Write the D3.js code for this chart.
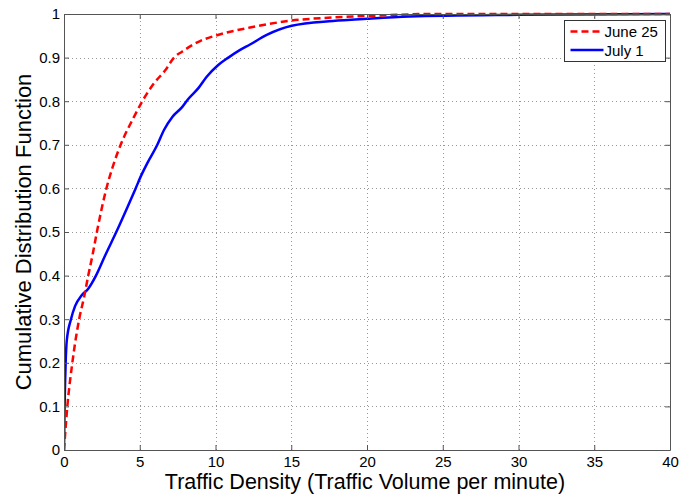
<!DOCTYPE html>
<html>
<head>
<meta charset="utf-8">
<script src="https://cdn.jsdelivr.net/npm/d3@7"></script>
<style>
  body { margin: 0; background: #fff; }
  svg text { font-family: "Liberation Sans", Arial, Helvetica, sans-serif; fill: #000; }
</style>
</head>
<body>
<div id="chart"></div>
<script>
//////////////////////////// data /////////////////////////////////////////

// June 25 curve: [traffic density, cdf]
const june25 = [
	[0, 0], [0.22, 0.1], [0.55, 0.2], [1.0, 0.3], [1.32, 0.35], [1.6, 0.4],
	[1.9, 0.45], [2.2, 0.505], [2.8, 0.6], [3.22, 0.65], [3.74, 0.7], [4.62, 0.764],
	[5.17, 0.8], [5.94, 0.841], [6.71, 0.872], [7.26, 0.9], [7.81, 0.914],
	[8.98, 0.938], [9.97, 0.95], [12.28, 0.969], [15.03, 0.985],
	[17.75, 0.992], [21.2, 0.997], [24, 1], [40, 1]
];

// July 1 curve
const july1 = [
	[0, 0], [0.04, 0.1], [0.11, 0.2], [0.18, 0.25], [0.46, 0.3], [0.73, 0.33],
	[1.17, 0.355], [1.6, 0.37], [2.11, 0.4], [2.7, 0.445], [3.52, 0.505],
	[4.1, 0.55], [4.73, 0.6], [5.06, 0.627], [5.5, 0.658], [6.16, 0.7],
	[6.6, 0.734], [7.15, 0.764], [7.81, 0.787], [8.2, 0.805], [8.87, 0.83],
	[9.42, 0.856], [10.18, 0.883], [10.85, 0.9], [11.6, 0.917], [12.28, 0.93],
	[13.38, 0.952], [15.03, 0.973], [17.75, 0.984], [19.98, 0.989],
	[22.8, 0.994], [30, 0.998], [40, 1]
];

const xTicks = [0, 5, 10, 15, 20, 25, 30, 35, 40];
const yTicks = [0, 0.1, 0.2, 0.3, 0.4, 0.5, 0.6, 0.7, 0.8, 0.9, 1];
const seriesNames = ["June 25", "July 1"];

//////////////////////////// Set up svg ///////////////////////////////////

const width = 699;
const height = 498;
const margin = { top: 14, right: 29, bottom: 48, left: 64 };

const svg = d3
	.select("#chart")
	.append("svg")
	.attr("width", width)
	.attr("height", height);

const xScale = d3.scaleLinear().domain([0, 40]).range([margin.left, width - margin.right]);
const yScale = d3.scaleLinear().domain([0, 1]).range([height - margin.bottom, margin.top]);

const x0 = xScale.range()[0], x1 = xScale.range()[1];
const y0 = yScale.range()[0], y1 = yScale.range()[1];

//////////////////////////// grid /////////////////////////////////////////

const grid = svg.append("g").attr("stroke", "#999").attr("stroke-width", 1)
	.attr("stroke-dasharray", "1,3");

grid.selectAll(".vgrid")
	.data(xTicks.slice(1, -1))
	.enter()
	.append("line")
	.attr("x1", (d) => Math.round(xScale(d)) + 0.5)
	.attr("x2", (d) => Math.round(xScale(d)) + 0.5)
	.attr("y1", y0)
	.attr("y2", y1);

grid.selectAll(".hgrid")
	.data(yTicks.slice(1, -1))
	.enter()
	.append("line")
	.attr("x1", x0)
	.attr("x2", x1)
	.attr("y1", (d) => Math.round(yScale(d)) + 0.5)
	.attr("y2", (d) => Math.round(yScale(d)) + 0.5);

//////////////////////////// lines ////////////////////////////////////////

const line = d3.line()
	.x((d) => xScale(d[0]))
	.y((d) => yScale(d[1]))
	.curve(d3.curveMonotoneX);

svg.append("clipPath").attr("id", "plotclip")
	.append("rect")
	.attr("x", x0).attr("y", y1 - 2)
	.attr("width", x1 - x0).attr("height", y0 - y1 + 2);

svg.append("path")
	.datum(july1)
	.attr("clip-path", "url(#plotclip)")
	.attr("fill", "none")
	.attr("stroke", "#0000ff")
	.attr("stroke-width", 2.5)
	.attr("d", line);

svg.append("path")
	.datum(june25)
	.attr("clip-path", "url(#plotclip)")
	.attr("fill", "none")
	.attr("stroke", "#ff0000")
	.attr("stroke-width", 2.5)
	.attr("stroke-dasharray", "7,4")
	.attr("d", line);

//////////////////////////// axes /////////////////////////////////////////

const tickSize = 5;
const axisColor = "#555";

const xAxis = d3.axisBottom(xScale).tickValues(xTicks).tickSizeInner(-tickSize).tickSizeOuter(0)
	.tickPadding(6).tickFormat(d3.format("d"));
const yAxis = d3.axisLeft(yScale).tickValues(yTicks).tickSizeInner(-tickSize).tickSizeOuter(0)
	.tickPadding(4).tickFormat((d) => (d === 0 || d === 1 ? d3.format("d")(d) : d3.format(".1f")(d)));
const xAxisTop = d3.axisTop(xScale).tickValues(xTicks).tickSizeInner(-tickSize).tickSizeOuter(0).tickFormat("");
const yAxisRight = d3.axisRight(yScale).tickValues(yTicks).tickSizeInner(-tickSize).tickSizeOuter(0).tickFormat("");

function styleAxis(g) {
	g.selectAll("path").attr("stroke", axisColor);
	g.selectAll("line").attr("stroke", axisColor);
	g.selectAll("text").attr("font-size", 15).attr("fill", "#000");
}

svg.append("g").attr("transform", "translate(0," + y0 + ")").call(xAxis).call(styleAxis);
svg.append("g").attr("transform", "translate(" + x0 + ",0)").call(yAxis).call(styleAxis);
svg.append("g").attr("transform", "translate(0," + y1 + ")").call(xAxisTop).call(styleAxis);
svg.append("g").attr("transform", "translate(" + x1 + ",0)").call(yAxisRight).call(styleAxis);

// axis labels
svg.append("text")
	.attr("x", 365)
	.attr("y", 489)
	.attr("text-anchor", "middle")
	.attr("font-size", 21.5)
	.text("Traffic Density (Traffic Volume per minute)");

svg.append("text")
	.attr("transform", "translate(31," + (y0 + y1) / 2 + ") rotate(-90)")
	.attr("text-anchor", "middle")
	.attr("font-size", 22)
	.text("Cumulative Distribution Function");

//////////////////////////// legend ///////////////////////////////////////

const legend = svg.append("g").attr("transform", "translate(564.5,20.5)");

legend.append("rect")
	.attr("width", 101)
	.attr("height", 41)
	.attr("fill", "#fff")
	.attr("stroke", "#333")
	.attr("stroke-width", 1);

const legendItems = legend.selectAll(".item")
	.data(seriesNames)
	.enter()
	.append("g")
	.attr("transform", (d, i) => "translate(0," + (11 + i * 18.5) + ")");

legendItems.append("line")
	.attr("x1", 6)
	.attr("x2", 39)
	.attr("stroke", (d, i) => (i === 0 ? "#ff0000" : "#0000ff"))
	.attr("stroke-width", 2.5)
	.attr("stroke-dasharray", (d, i) => (i === 0 ? "7,4" : null));

legendItems.append("text")
	.attr("x", 40)
	.attr("y", 5.5)
	.attr("font-size", 15)
	.text((d) => d);
</script>
</body>
</html>
